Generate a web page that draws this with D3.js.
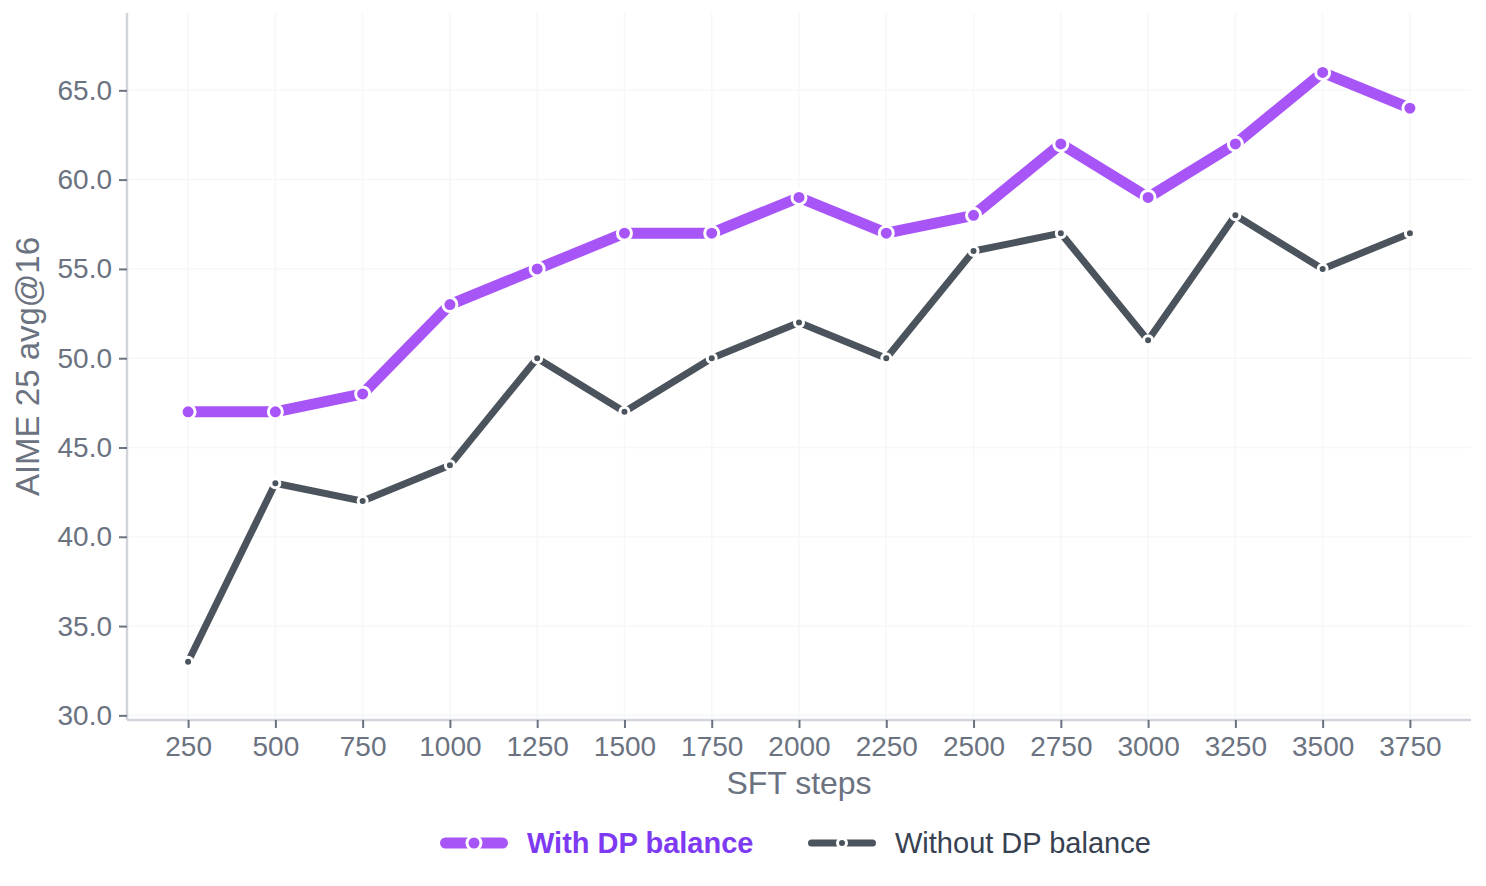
<!DOCTYPE html>
<html>
<head>
<meta charset="utf-8">
<script src="https://cdn.jsdelivr.net/npm/d3@7"></script>
<style>
  body { margin: 0; background: #fff; }
  text { font-family: "Liberation Sans", Arial, Helvetica, sans-serif; }
</style>
</head>
<body>
<div id="chart"></div>
<script>
// data
var steps = [250, 500, 750, 1000, 1250, 1500, 1750, 2000, 2250, 2500, 2750, 3000, 3250, 3500, 3750];
var withBalance = [47, 47, 48, 53, 55, 57, 57, 59, 57, 58, 62, 59, 62, 66, 64];
var withoutBalance = [33, 43, 42, 44, 50, 47, 50, 52, 50, 56, 57, 51, 58, 55, 57];
var yTicks = [30, 35, 40, 45, 50, 55, 60, 65];

var svgWidth = 1486;
var svgHeight = 886;

var margin = { top: 13, right: 15, bottom: 166, left: 127 };
var chartWidth = svgWidth - margin.left - margin.right;
var chartHeight = svgHeight - margin.top - margin.bottom;

var svg = d3.select('#chart')
    .append('svg')
    .attr('width', svgWidth)
    .attr('height', svgHeight);

var chartGroup = svg.append('g')
    .attr('transform', `translate(${margin.left}, ${margin.top})`);

var xScale = d3.scalePoint()
    .domain(steps)
    .range([0, chartWidth])
    .padding(0.7);

var yScale = d3.scaleLinear()
    .domain([29.74, 69.33])
    .range([chartHeight, 0]);

// faint grid
chartGroup.append('g').selectAll('line').data(yTicks).enter()
    .append('line')
    .attr('x1', 0).attr('x2', chartWidth)
    .attr('y1', d => yScale(d)).attr('y2', d => yScale(d))
    .attr('stroke', '#f5f7f8').attr('stroke-width', 1.5);

chartGroup.append('g').selectAll('line').data(steps).enter()
    .append('line')
    .attr('x1', d => xScale(d)).attr('x2', d => xScale(d))
    .attr('y1', 0).attr('y2', chartHeight)
    .attr('stroke', '#f5f7f8').attr('stroke-width', 1.5);

// axes
var bottomAxis = d3.axisBottom(xScale).tickSize(8).tickPadding(8);
var leftAxis = d3.axisLeft(yScale).tickValues(yTicks).tickFormat(d3.format('.1f')).tickSize(8).tickPadding(7);

var xAxisG = chartGroup.append('g')
    .attr('transform', `translate(0, ${chartHeight})`)
    .call(bottomAxis);
var yAxisG = chartGroup.append('g').call(leftAxis);

[xAxisG, yAxisG].forEach(function(g) {
    g.select('.domain').attr('stroke', '#d1d5db').attr('stroke-width', 2.5);
    g.selectAll('.tick line').attr('stroke', '#6b7280').attr('stroke-width', 2);
    g.selectAll('.tick text')
        .attr('fill', '#6b7280')
        .style('font-size', '28px')
        .style('font-family', '"Liberation Sans", Arial, sans-serif');
});
yAxisG.select('.domain').attr('d', `M0,${chartHeight}V0`);
xAxisG.select('.domain').attr('d', `M0,0H${chartWidth}`);

// axis titles
chartGroup.append('text')
    .attr('x', chartWidth / 2)
    .attr('y', chartHeight + 74)
    .attr('text-anchor', 'middle')
    .attr('fill', '#6b7280')
    .style('font-size', '32px')
    .text('SFT steps');

chartGroup.append('text')
    .attr('transform', `translate(${-88}, ${chartHeight / 2}) rotate(-90)`)
    .attr('text-anchor', 'middle')
    .attr('fill', '#6b7280')
    .style('font-size', '33px')
    .text('AIME 25 avg@16');

// series
var series = [
    { name: 'With DP balance', values: withBalance, color: '#a855f7', width: 11, r: 7, text: '#7e3af2', bold: true },
    { name: 'Without DP balance', values: withoutBalance, color: '#4b535c', width: 7, r: 4.5, text: '#374151', bold: false }
];

var line = d3.line()
    .x((d, i) => xScale(steps[i]))
    .y(d => yScale(d));

series.slice().reverse().forEach(function(s) {
    chartGroup.append('path')
        .datum(s.values)
        .attr('fill', 'none')
        .attr('stroke', s.color)
        .attr('stroke-width', s.width)
        .attr('stroke-linejoin', 'round')
        .attr('d', line);

    chartGroup.append('g').selectAll('circle').data(s.values).enter()
        .append('circle')
        .attr('cx', (d, i) => xScale(steps[i]))
        .attr('cy', d => yScale(d))
        .attr('r', s.r)
        .attr('fill', s.color)
        .attr('stroke', '#fff')
        .attr('stroke-width', 3);
});

// legend
var legend = svg.append('g').attr('transform', 'translate(0, 843)');
var legendX = [440, 808];

series.forEach(function(s, i) {
    var g = legend.append('g').attr('transform', `translate(${legendX[i]}, 0)`);
    g.append('line')
        .attr('x1', s.width / 2).attr('x2', 68 - s.width / 2)
        .attr('stroke', s.color)
        .attr('stroke-width', s.width)
        .attr('stroke-linecap', 'round');
    g.append('circle')
        .attr('cx', 34).attr('cy', 0)
        .attr('r', s.r)
        .attr('fill', s.color)
        .attr('stroke', '#fff')
        .attr('stroke-width', 3);
    g.append('text')
        .attr('x', 87)
        .attr('dy', '0.35em')
        .attr('fill', s.text)
        .style('font-size', '29px')
        .style('font-weight', s.bold ? 'bold' : 'normal')
        .text(s.name);
});
</script>
</body>
</html>
